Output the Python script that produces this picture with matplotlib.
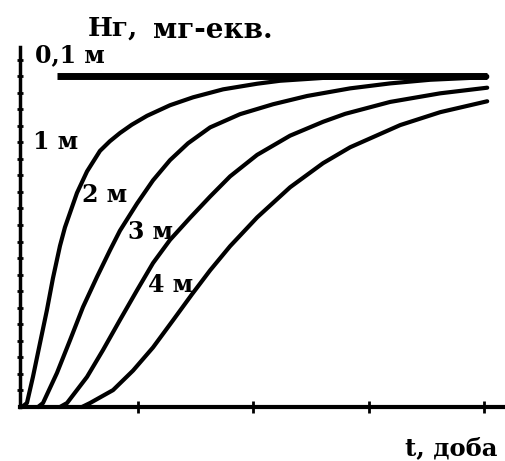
import numpy as np
import matplotlib
matplotlib.use('Agg')
import matplotlib.pyplot as plt

# curves (t in tick units, H relative to the saturation level)
t1 = [0, 0.043, 0.095, 0.156, 0.216, 0.268, 0.329, 0.372, 0.476, 0.563, 0.675, 0.76,
      0.848, 0.95, 1.082, 1.281, 1.481, 1.74, 2.035, 2.234, 2.667, 3.273, 4.026]
h1 = [0, 0.012, 0.091, 0.193, 0.293, 0.389, 0.487, 0.543, 0.647, 0.712, 0.774, 0.803,
      0.828, 0.853, 0.88, 0.912, 0.936, 0.96, 0.977, 0.986, 0.996, 1.0, 1.0]

t2 = [0.139, 0.182, 0.303, 0.416, 0.528, 0.649, 0.762, 0.848, 0.996, 1.134, 1.281,
      1.437, 1.628, 1.887, 2.173, 2.468, 2.84, 3.186, 3.532, 4.026]
h2 = [0, 0.012, 0.103, 0.202, 0.302, 0.393, 0.474, 0.533, 0.615, 0.685, 0.746,
      0.797, 0.845, 0.885, 0.915, 0.94, 0.963, 0.978, 0.989, 0.997]

t3 = [0.329, 0.39, 0.563, 0.701, 0.848, 0.996, 1.134, 1.281, 1.455, 1.628, 1.801,
      2.035, 2.32, 2.606, 2.797, 3.186, 3.619, 4.026]
h3 = [0, 0.012, 0.091, 0.172, 0.263, 0.353, 0.435, 0.505, 0.572, 0.636, 0.697,
      0.762, 0.82, 0.862, 0.886, 0.922, 0.948, 0.965]

t4 = [0.519, 0.589, 0.788, 0.961, 1.134, 1.307, 1.472, 1.628, 1.801, 2.035, 2.32, 2.606,
      2.84, 3.273, 3.619, 4.026]
h4 = [0, 0.012, 0.051, 0.11, 0.18, 0.262, 0.341, 0.413, 0.486, 0.573, 0.664, 0.737,
      0.785, 0.852, 0.891, 0.924]

t01 = [0.303, 4.026]
h01 = [1.0, 1.0]

curve_labels = ['0,1 м', '1 м', '2 м', '3 м', '4 м']

plt.rcParams['font.family'] = ['DejaVu Serif']
plt.rcParams['font.weight'] = 'bold'

fig = plt.figure(figsize=(5.05, 4.61), dpi=100)
ax = fig.add_axes([20 / 505, 54 / 461, 485 / 505, 360 / 461])

ax.plot(t01, h01, color='black', lw=5, solid_capstyle='butt')
for t, h in [(t1, h1), (t2, h2), (t3, h3), (t4, h4)]:
    ax.plot(t, h, color='black', lw=3, solid_capstyle='round', solid_joinstyle='round',
            clip_on=False)

ax.set_xlim(-0.017, 4.18)
ax.set_ylim(0, 1.088)

for s in ['top', 'right']:
    ax.spines[s].set_visible(False)
ax.spines['left'].set_linewidth(2.5)
ax.spines['bottom'].set_linewidth(3)

ax.set_xticks([1, 2, 3, 4])
ax.set_xticklabels([])
ax.tick_params(axis='x', direction='inout', length=8, width=2)
ax.set_yticks(np.arange(0.05, 1.08, 0.05))
ax.set_yticklabels([])
ax.tick_params(axis='y', direction='inout', length=4, width=2)

lbl_x = [0.113, 0.095, 0.52, 0.918, 1.09]
lbl_y = [1.063, 0.80, 0.64, 0.529, 0.369]
for name, x, y in zip(curve_labels, lbl_x, lbl_y):
    ax.text(x, y, name, fontsize=17, fontweight='bold', ha='left', va='center')

ax.text(0.571, 1.145, 'Hг,', fontsize=19, fontweight='bold', ha='left', va='center', clip_on=False)
ax.text(1.134, 1.139, 'мг-екв.', fontsize=20, fontweight='bold', ha='left', va='center', clip_on=False)
ax.text(3.316, -0.124, 't, доба', fontsize=17.5, fontweight='bold', ha='left', va='center', clip_on=False)

fig.savefig('out.png', dpi=100)
